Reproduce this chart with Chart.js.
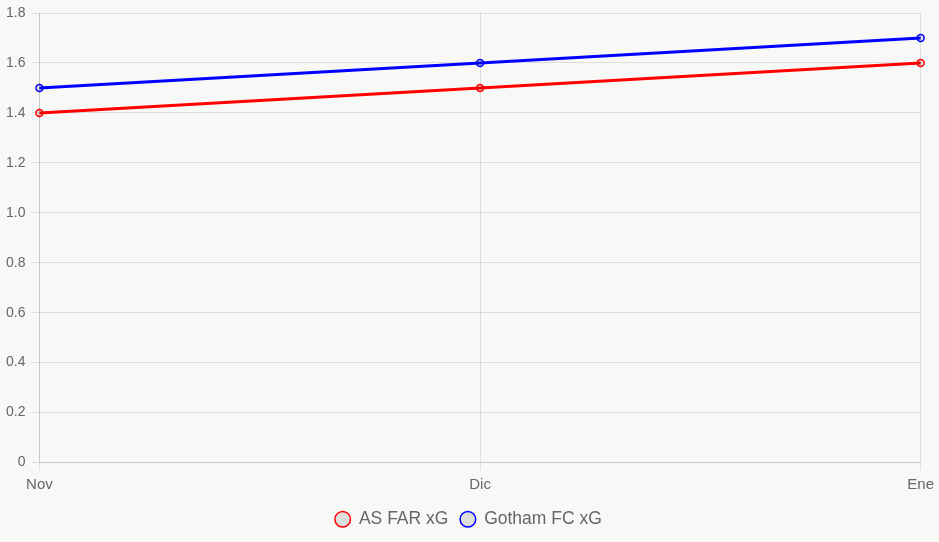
<!DOCTYPE html>
<html>
<head>
<meta charset="utf-8">
<script src="https://cdn.jsdelivr.net/npm/chart.js@4"></script>
<style>
html,body{margin:0;padding:0;background:#f8f8f6;}
#wrap{width:939px;height:542px;}
</style>
</head>
<body>
<div id="wrap"><canvas id="c"></canvas></div>
<script>
const categories = ["Nov", "Dic", "Ene"];
const asFarXG = [1.4, 1.5, 1.6];
const gothamXG = [1.5, 1.6, 1.7];
const seriesNames = ["AS FAR xG", "Gotham FC xG"];

new Chart(document.getElementById('c'), {
  type: 'line',
  data: {
    labels: categories,
    datasets: [
      { label: seriesNames[0], data: asFarXG, borderColor: 'red', backgroundColor: 'rgba(0,0,0,0.1)', borderWidth: 3, pointRadius: 3.5, pointBorderWidth: 1.5, tension: 0 },
      { label: seriesNames[1], data: gothamXG, borderColor: 'blue', backgroundColor: 'rgba(0,0,0,0.1)', borderWidth: 3, pointRadius: 3.5, pointBorderWidth: 1.5, tension: 0 }
    ]
  },
  options: {
    responsive: true,
    maintainAspectRatio: false,
    animation: false,
    layout: { padding: { left: 0, top: 0, right: 2, bottom: 4 } },
    plugins: {
      legend: { position: 'bottom', labels: { usePointStyle: true, pointStyle: 'circle', boxWidth: 15, boxHeight: 11, padding: 12, font: { size: 17.5 }, color: '#666' } },
      tooltip: { enabled: false }
    },
    scales: {
      x: { ticks: { font: { size: 15 }, color: '#666', padding: 5 }, grid: { color: 'rgba(0,0,0,0.1)' } },
      y: { min: 0, max: 1.8, ticks: { stepSize: 0.2, font: { size: 14, lineHeight: 1.0 }, color: '#666', padding: 6 }, grid: { color: 'rgba(0,0,0,0.1)' } }
    }
  }
});
</script>
</body>
</html>
